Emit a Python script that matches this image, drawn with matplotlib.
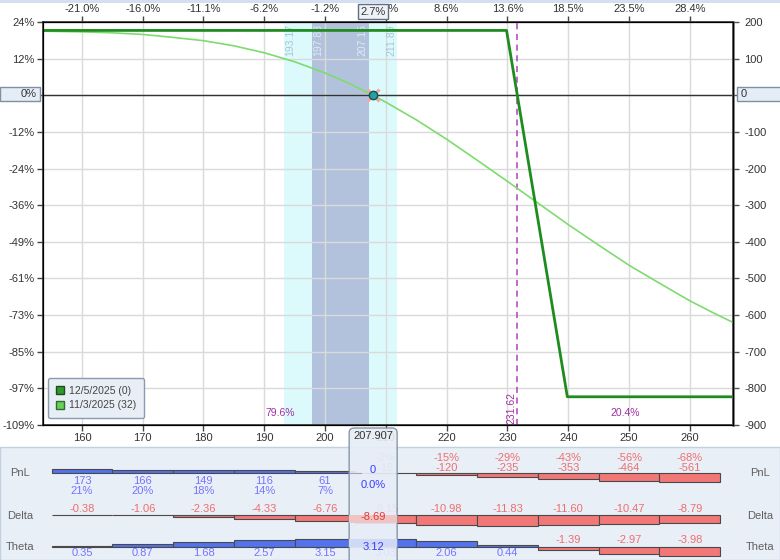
import matplotlib
matplotlib.use("Agg")
import matplotlib.pyplot as plt
from matplotlib.patches import Rectangle, FancyBboxPatch, Patch
from matplotlib.transforms import IdentityTransform

plt.rcParams['font.family'] = ['Liberation Sans', 'DejaVu Sans']

# ---------------- data ----------------
capital = 823
ref_price = 202.5
spot = 207.907
breakeven = 231.62
band_outer = [193.17, 211.89]
band_inner = [197.83, 207.15]
legend_labels = ["12/5/2025 (0)", "11/3/2025 (32)"]

expiry_price = [150, 229.85, 239.85, 270]
expiry_pnl = [177, 177, -823, -823]

t0_price = [153.6, 160, 165, 170, 175, 180, 185, 190, 195, 200, 204, 207.907,
            210, 215, 220, 225, 230, 235, 240, 245, 250, 255, 260, 264, 267.1]
t0_pnl = [175, 173, 170.5, 166, 158, 149, 135, 116, 91.5, 61, 32, 0,
          -19, -67, -120, -177, -235, -294, -353, -409, -464, -513, -561, -595, -620]

grid_prices = [160, 170, 180, 190, 200, 210, 220, 230, 240, 250, 260]
pnl_vals = [173, 166, 149, 116, 61, -19, -120, -235, -353, -464, -561]
delta_vals = [-0.38, -1.06, -2.36, -4.33, -6.76, -9.15, -10.98, -11.83, -11.60, -10.47, -8.79]
theta_vals = [0.35, 0.87, 1.68, 2.57, 3.15, 3.03, 2.06, 0.44, -1.39, -2.97, -3.98]

spot_pnl = 0
spot_delta = -8.69
spot_theta = 3.12

yticks = list(range(-900, 201, 100))

# ---------------- styling ----------------
W, H = 780, 560
BLUE_BAR, RED_BAR = '#5272ee', '#f27878'
BLUE_TXT, RED_TXT = '#7474ff', '#ef6e6e'
TXT = '#333333'

def fx(p):
    return p / W

def fy(p):
    return 1 - p / H

fig = plt.figure(figsize=(7.8, 5.6), dpi=100)
fig.patch.set_facecolor('white')

# top strip and lower panel background
fig.add_artist(Rectangle((0, fy(3)), 1, 3 / H, transform=fig.transFigure,
                         facecolor='#d3e0f1', edgecolor='none', zorder=-1))
fig.add_artist(Rectangle((0, 0), 1, (H - 447) / H, transform=fig.transFigure,
                         facecolor='#e9eff7', edgecolor='#c3d0e0', lw=1, zorder=-1))

# ---------------- main axes ----------------
ax = fig.add_axes([fx(43), fy(425), 690 / W, 403 / H])
ax.set_facecolor('white')
xlim = (153.6, 267.1)
ax.set_xlim(*xlim)
ax.set_ylim(-900, 200)

ax.set_xticks(grid_prices)
ax.set_xticklabels([str(p) for p in grid_prices])
ax.set_yticks(yticks)
ax.set_yticklabels(["" if v == 0 else f"{v / capital * 100:.0f}%" for v in yticks])
ax.grid(True, color='#dadada', lw=1)
ax.set_axisbelow(True)
ax.tick_params(axis='both', length=4, width=1, color='#444', labelsize=8,
               labelcolor=TXT, pad=2)
for s in ax.spines.values():
    s.set_color('#333')
    s.set_linewidth(1.2)

# bands
ax.axvspan(band_outer[0], band_outer[1], color='#dcfafc', zorder=0.1, lw=0)
ax.axvspan(band_inner[0], band_inner[1], color='#b3c2dc', zorder=0.2, lw=0)
band_cols = {band_outer[0]: ('#a9c3d9', 4.5), band_inner[0]: ('#e2e9f3', 4.5),
             band_inner[1]: ('#e2e9f3', -4.5), band_outer[1]: ('#a9c3d9', -4.5)}
for v, (c, dx) in band_cols.items():
    ax.annotate(f"{v:.2f}", xy=(v, 1), xycoords=('data', 'axes fraction'),
                xytext=(dx, -1.5), textcoords='offset points', rotation=90,
                ha='center', va='top', fontsize=7.5, color=c, zorder=1)

ax.axhline(0, color='#333', lw=1, zorder=2)

# breakeven
ax.axvline(breakeven, color='#b040c0', ls=(0, (4, 3)), lw=1.1, zorder=2)
ax.annotate(f"{breakeven:.2f}", xy=(breakeven, 0), xycoords=('data', 'axes fraction'),
            xytext=(-4.2, 1), textcoords='offset points', rotation=90,
            ha='center', va='bottom', fontsize=7.5, color='#a030a0')

# probabilities
ax.annotate("79.6%", xy=((xlim[0] + breakeven) / 2, 0), xycoords=('data', 'axes fraction'),
            xytext=(0, 8.6), textcoords='offset points', ha='center', va='center',
            fontsize=7.5, color='#a030a0')
ax.annotate("20.4%", xy=((xlim[1] + breakeven) / 2, 0), xycoords=('data', 'axes fraction'),
            xytext=(0, 8.6), textcoords='offset points', ha='center', va='center',
            fontsize=7.5, color='#a030a0')

# curves
ax.plot(t0_price, t0_pnl, color='#7ddc6e', lw=1.2, zorder=3)
ax.plot(expiry_price, expiry_pnl, color='#1e8c1e', lw=2, zorder=4)

# spot marker
ax.plot(spot, spot_pnl, marker='x', color='#f4a5a5', ms=8, mew=2.2, zorder=5)
ax.plot(spot, spot_pnl, marker='o', ms=6, mfc='#1fa3a3', mec='#1d4f4f', mew=1, zorder=6)

# legend
handles = [Patch(facecolor='#2e9a2e', edgecolor='#1d4d1d'),
           Patch(facecolor='#66d05a', edgecolor='#2d6d2d')]
leg = ax.legend(handles, legend_labels, loc='lower left', bbox_to_anchor=(5 / 690, 7 / 403),
                borderaxespad=0, fontsize=7.5, frameon=True, fancybox=True,
                facecolor='#e8eef6', edgecolor='#8a9bb0', framealpha=1,
                handlelength=0.8, handleheight=0.8, handletextpad=0.5,
                labelspacing=0.45, borderpad=0.75, labelcolor='#444')
leg.set_zorder(10)

# right axis
twin = ax.twinx()
twin.set_ylim(-900, 200)
twin.set_yticks(yticks)
twin.set_yticklabels(["" if v == 0 else str(v) for v in yticks])
twin.tick_params(axis='y', length=4, width=1, color='#555', labelsize=8,
                 labelcolor=TXT, pad=4)
twin.spines['right'].set_color('#666')
twin.spines['right'].set_linewidth(1.8)

# top axis
top = ax.twiny()
top.set_xlim(*xlim)
top.set_xticks(grid_prices)
top.set_xticklabels([f"{(p / ref_price - 1) * 100:.1f}%" for p in grid_prices])
top.tick_params(axis='x', length=4, width=1, color='#444', labelsize=8,
                labelcolor=TXT, pad=2)
top.annotate(f"{(spot / ref_price - 1) * 100:.1f}%", xy=(spot, 1),
             xycoords=('data', 'axes fraction'), xytext=(0, 7.3),
             textcoords='offset points', ha='center', va='center', fontsize=8,
             color=TXT, annotation_clip=False, zorder=10,
             bbox=dict(boxstyle='square,pad=0.22', fc='#eef2f8', ec='#607080', lw=1))

# zero boxes on both sides
fig.add_artist(Rectangle((0, H - 101), 40, 14, transform=IdentityTransform(),
                         facecolor='#e4ecf6', edgecolor='#8090a0', lw=1, zorder=5))
fig.text(fx(37), fy(94), "0%", ha='right', va='center', fontsize=8, color=TXT, zorder=6)
fig.add_artist(Rectangle((737, H - 101), 45, 14, transform=IdentityTransform(),
                         facecolor='#e4ecf6', edgecolor='#8090a0', lw=1, zorder=5))
fig.text(fx(741), fy(94), "0", ha='left', va='center', fontsize=8, color=TXT, zorder=6)

# ---------------- lower panel ----------------
rows = {
    'pnl': dict(top=458, bottom=488, base=472.5, scale=0.0178, y=473, name='PnL'),
    'delta': dict(top=500, bottom=530, base=514.5, scale=0.93, y=516, name='Delta'),
    'theta': dict(top=532, bottom=560, base=546.5, scale=2.5, y=547, name='Theta'),
}

def row_axes(r, z):
    a = fig.add_axes([fx(43), fy(r['bottom']), 690 / W, (r['bottom'] - r['top']) / H])
    a.set_xlim(*xlim)
    a.set_ylim(-(r['bottom'] - r['base']) / r['scale'], (r['base'] - r['top']) / r['scale'])
    a.axis('off')
    a.set_zorder(z)
    a.patch.set_alpha(0)
    return a

PT = 0.72  # points per pixel

def lab(a, x, dy_px, s, c):
    a.annotate(s, xy=(x, 0), xytext=(0, dy_px * PT), textcoords='offset points',
               ha='center', va='center', fontsize=8, color=c, annotation_clip=False)

series = {'pnl': pnl_vals, 'delta': delta_vals, 'theta': theta_vals}
for key, r in rows.items():
    a = row_axes(r, 1)
    vals = series[key]
    a.bar(grid_prices, vals, width=10,
          color=[BLUE_BAR if v >= 0 else RED_BAR for v in vals],
          edgecolor='#4a4a4a', linewidth=0.8)
    for p, v in zip(grid_prices, vals):
        c = BLUE_TXT if v >= 0 else RED_TXT
        if key == 'pnl':
            pct = f"{v / capital * 100:.0f}%"
            if v >= 0:
                lab(a, p, -8.5, f"{v}", c)
                lab(a, p, -18.5, pct, c)
            else:
                lab(a, p, 4.8, f"{v}", c)
                lab(a, p, 14.2, pct, c)
        elif key == 'delta':
            lab(a, p, 5 if v < 0 else -6, f"{v:.2f}", c)
        else:
            lab(a, p, 6.5 if v < 0 else -6.8, f"{v:.2f}", c)
    fig.text(fx(20), fy(r['y']), r['name'], ha='center', va='center', fontsize=8, color='#606060')
    fig.text(fx(760), fy(r['y']), r['name'], ha='center', va='center', fontsize=8, color='#606060')

# spot column box
sx = ax.transData.transform((spot, 0))[0]
box_w = 48
fig.add_artist(FancyBboxPatch((sx - box_w / 2, -10), box_w, (H - 428) + 10,
                              boxstyle='round,pad=0,rounding_size=5',
                              transform=IdentityTransform(), facecolor='#e6edf6',
                              edgecolor='#7f8fa0', lw=1, alpha=0.92, zorder=5))
fig.text(sx / W, fy(436), f"{spot:.3f}", ha='center', va='center', fontsize=8,
         color=TXT, zorder=7)

box_w_data = box_w / (ax.transData.transform((1, 0))[0] - ax.transData.transform((0, 0))[0])
ov = {k: row_axes(r, 6) for k, r in rows.items()}
ov['pnl'].plot([spot - box_w_data / 2, spot - box_w_data / 4], [0, 0], color='#a8a8a8', lw=0.8)
ov['delta'].bar(spot, spot_delta, width=box_w_data, color='#efc4c4', edgecolor='none')
ov['theta'].bar(spot, spot_theta, width=box_w_data, color='#cfd8f6', edgecolor='none')

def lab2(a, dy_px, s, c):
    a.annotate(s, xy=(spot, 0), xytext=(0, dy_px * PT), textcoords='offset points',
               ha='center', va='center', fontsize=8, color=c, annotation_clip=False)

lab2(ov['pnl'], 2.5, f"{spot_pnl}", '#3a3aff')
lab2(ov['pnl'], -12.5, f"{spot_pnl / capital * 100:.1f}%", '#3a3aff')
lab2(ov['delta'], -2.8, f"{spot_delta:.2f}", '#ee3333')
lab2(ov['theta'], -0.2, f"{spot_theta:.2f}", '#3a3aff')

fig.savefig("out.png", dpi=100)
